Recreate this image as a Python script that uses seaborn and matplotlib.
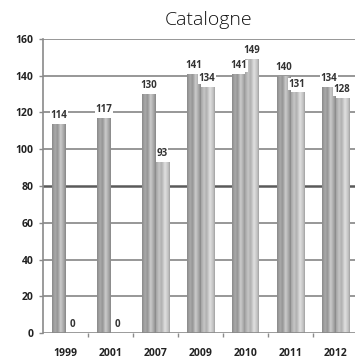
import numpy as np
import pandas as pd
import matplotlib
matplotlib.use("Agg")
import matplotlib.pyplot as plt
from matplotlib.colors import LinearSegmentedColormap
import seaborn as sns

# Data
years = ["1999", "2001", "2007", "2009", "2010", "2011", "2012"]
serie_1 = [114, 117, 130, 141, 141, 140, 134]
serie_2 = [0, 0, 93, 134, 149, 131, 128]
series_names = ["Série 1", "Série 2"]
y_ticks = [0, 20, 40, 60, 80, 100, 120, 140, 160]
title = "Catalogne"

df = pd.DataFrame({
    "annee": years * 2,
    "valeur": serie_1 + serie_2,
    "serie": [series_names[0]] * len(years) + [series_names[1]] * len(years),
})

sns.set_style("white")
plt.rcParams["font.family"] = ["Open Sans", "DejaVu Sans"]

fig = plt.figure(figsize=(3.55, 3.58), dpi=100)
ax = fig.add_axes([43 / 355, 25 / 358, 315 / 355, 294 / 358])

sns.barplot(data=df, x="annee", y="valeur", hue="serie", order=years,
            hue_order=series_names, width=0.58, dodge=True, ax=ax,
            legend=False, errorbar=None, palette=["#a0a0a0", "#c8c8c8"])

ax.set_xlim(-0.5, 6.5)
ax.set_ylim(0, 160)

# Gridlines
for v in y_ticks[1:]:
    if v == 80:
        ax.axhline(v, color="#5a5a5a", lw=1.8, zorder=0.5)
    else:
        ax.axhline(v, color="#8f8f8f", lw=1.3, zorder=0.5)

# Cylinder-like shading for bars
cmap_1 = LinearSegmentedColormap.from_list("cyl1", [
    (0.0, "#8a8a8a"), (0.22, "#aaaaaa"), (0.4, "#959595"),
    (0.62, "#cbcbcb"), (0.85, "#a6a6a6"), (1.0, "#888888")])
cmap_2 = LinearSegmentedColormap.from_list("cyl2", [
    (0.0, "#a4a4a4"), (0.22, "#c6c6c6"), (0.4, "#b0b0b0"),
    (0.65, "#e0e0e0"), (0.88, "#c2c2c2"), (1.0, "#a2a2a2")])
grad = np.linspace(0, 1, 64).reshape(1, -1)

n = len(years)
values_all = serie_1 + serie_2
for i, patch in enumerate(ax.patches[:2 * n]):
    x0 = patch.get_x()
    w = patch.get_width()
    h = patch.get_height()
    cmap = cmap_1 if i < n else cmap_2
    if h > 0:
        im = ax.imshow(grad, cmap=cmap, aspect="auto",
                       extent=[x0, x0 + w, 0, h], zorder=2)
        im.set_clip_path(patch)
    patch.set_facecolor("none")
    patch.set_edgecolor("none")
    ax.annotate(str(values_all[i]), (x0 + w / 2, h), xytext=(0, 2),
                textcoords="offset points", ha="center", va="bottom",
                fontsize=7, fontweight="bold", color="#333333", zorder=4,
                bbox=dict(boxstyle="square,pad=0.05", fc="white", ec="none"))

ax.set_xlim(-0.5, 6.5)
ax.set_ylim(0, 160)

# Axes styling
for s in ["top", "right", "bottom"]:
    ax.spines[s].set_visible(False)
ax.spines["left"].set_color("#8a8a8a")
ax.spines["left"].set_linewidth(1.2)
ax.axhline(0, color="#8a8a8a", lw=1.2, zorder=3)

ax.set_yticks(y_ticks)
ax.set_yticklabels([str(v) for v in y_ticks], fontsize=7.5,
                   fontweight="bold", color="#222222")
ax.tick_params(axis="y", left=True, length=3, width=1, color="#8a8a8a", pad=4)

ax.set_xticks(range(n))
ax.set_xticklabels(years, fontsize=7.5, fontweight="bold", color="#222222")
ax.set_xticks(np.arange(0.5, n - 0.5, 1), minor=True)
ax.tick_params(axis="x", which="major", length=0, pad=11)
ax.tick_params(axis="x", which="minor", bottom=True, length=3, width=1,
               color="#8a8a8a")
ax.set_xlabel("")
ax.set_ylabel("")

fig.text(209 / 355, 1 - 20 / 358, title, ha="center", va="center",
         fontsize=14, fontweight="light", color="#111111")

fig.savefig("out.png", dpi=100)
